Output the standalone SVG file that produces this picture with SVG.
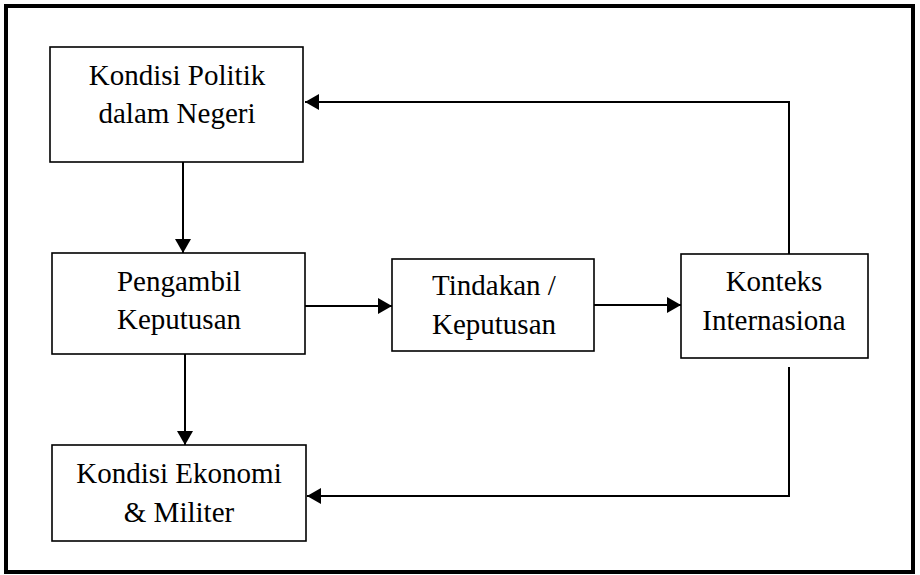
<svg xmlns="http://www.w3.org/2000/svg" width="920" height="575" viewBox="0 0 920 575">
<style>
.box{fill:#fff;stroke:#000;stroke-width:1.6}
.lbl{font-size:29px;fill:#000;text-anchor:middle}
.con{fill:none;stroke:#000;stroke-width:2}
</style>
<defs>
<marker id="ah" markerUnits="userSpaceOnUse" markerWidth="14" markerHeight="16" refX="14" refY="8" orient="auto">
<path d="M0,0 L14,8 L0,16 Z" fill="#000"/>
</marker>
</defs>
<rect x="0" y="0" width="920" height="575" fill="#fff"/>
<rect id="frame" x="6" y="6" width="907" height="566" fill="none" stroke="#000" stroke-width="4"/>
<g id="connectors">
<line class="con" x1="183" y1="162" x2="183" y2="253" marker-end="url(#ah)"/>
<line class="con" x1="185" y1="354" x2="185" y2="445" marker-end="url(#ah)"/>
<line class="con" x1="305" y1="306" x2="392" y2="306" marker-end="url(#ah)"/>
<line class="con" x1="594" y1="305" x2="681" y2="305" marker-end="url(#ah)"/>
<polyline class="con" points="789,256 789,102 305,102" marker-end="url(#ah)"/>
<polyline class="con" points="789,367 789,496 307,496" marker-end="url(#ah)"/>
</g>
<g font-family="Liberation Serif, serif">
<g id="n1">
<rect class="box" x="50" y="47" width="253" height="115"/>
<text class="lbl" x="177" y="85">Kondisi Politik</text>
<text class="lbl" x="177" y="123">dalam Negeri</text>
</g>
<g id="n2">
<rect class="box" x="52" y="253" width="253" height="101"/>
<text class="lbl" x="179" y="291">Pengambil</text>
<text class="lbl" x="179" y="329">Keputusan</text>
</g>
<g id="n3">
<rect class="box" x="392" y="259" width="202" height="92"/>
<text class="lbl" x="494" y="295">Tindakan /</text>
<text class="lbl" x="494" y="334">Keputusan</text>
</g>
<g id="n4">
<rect class="box" x="681" y="254" width="187" height="104"/>
<text class="lbl" x="774" y="291">Konteks</text>
<text class="lbl" x="774" y="330">Internasiona</text>
</g>
<g id="n5">
<rect class="box" x="52" y="445" width="254" height="96"/>
<text class="lbl" x="179" y="483">Kondisi Ekonomi</text>
<text class="lbl" x="179" y="522">&amp; Militer</text>
</g>
</g>
</svg>
